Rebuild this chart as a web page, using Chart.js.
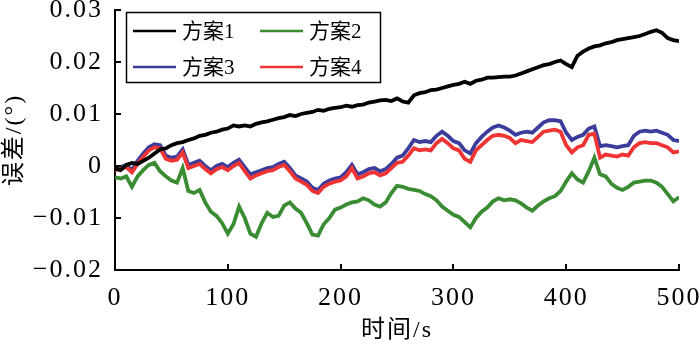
<!DOCTYPE html>
<html>
<head>
<meta charset="utf-8">
<script src="https://cdn.jsdelivr.net/npm/chart.js@4/dist/chart.umd.min.js"></script>
<style>
html,body{margin:0;padding:0;background:#fff;}
#wrap{width:700px;height:345px;}
</style>
</head>
<body>
<div id="wrap"><canvas id="c" width="700" height="345"></canvas></div>
<script>
const times = [0,5,10,15,20,25,30,35,40,45,50,55,60,65,70,75,80,85,90,95,
100,105,110,115,120,125,130,135,140,145,150,155,160,165,170,175,180,185,190,195,
200,205,210,215,220,225,230,235,240,245,250,255,260,265,270,275,280,285,290,295,
300,305,310,315,320,325,330,335,340,345,350,355,360,365,370,375,380,385,390,395,
400,405,410,415,420,425,430,435,440,445,450,455,460,465,470,475,480,485,490,495,500];

const seriesNames = ["方案1","方案2","方案3","方案4"];

const plan1 = [-0.0005,-0.0008,0.0002,0.0006,0.0004,0.0010,0.0016,0.0024,0.0032,0.0034,
0.0040,0.0044,0.0046,0.0050,0.0053,0.0058,0.0060,0.0064,0.0066,0.0070,
0.0072,0.0078,0.0076,0.0078,0.0076,0.0081,0.0084,0.0086,0.0089,0.0092,
0.0094,0.0098,0.0096,0.0100,0.0102,0.0104,0.0108,0.0106,0.0110,0.0112,
0.0113,0.0116,0.0114,0.0117,0.0118,0.0122,0.0124,0.0126,0.0127,0.0125,
0.0130,0.0124,0.0122,0.0136,0.0140,0.0142,0.0146,0.0147,0.0150,0.0153,
0.0156,0.0158,0.0162,0.0158,0.0164,0.0166,0.0170,0.0170,0.0171,0.0172,
0.0172,0.0174,0.0178,0.0182,0.0186,0.0190,0.0194,0.0196,0.0200,0.0203,
0.0196,0.0190,0.0212,0.0220,0.0226,0.0230,0.0232,0.0236,0.0238,0.0242,
0.0244,0.0246,0.0248,0.0250,0.0254,0.0258,0.0261,0.0256,0.0246,0.0242,0.0240];

const plan2 = [-0.0022,-0.0024,-0.0020,-0.0040,-0.0020,-0.0008,0.0002,0.0006,-0.0010,-0.0020,
-0.0028,-0.0032,-0.0004,-0.0048,-0.0052,-0.0046,-0.0070,-0.0088,-0.0096,-0.0110,
-0.0130,-0.0112,-0.0078,-0.0100,-0.0130,-0.0136,-0.0110,-0.0090,-0.0098,-0.0096,
-0.0076,-0.0070,-0.0082,-0.0090,-0.0110,-0.0132,-0.0134,-0.0112,-0.0100,-0.0084,
-0.0080,-0.0074,-0.0070,-0.0068,-0.0062,-0.0066,-0.0074,-0.0078,-0.0070,-0.0052,
-0.0038,-0.0040,-0.0044,-0.0046,-0.0048,-0.0054,-0.0058,-0.0066,-0.0078,-0.0086,
-0.0094,-0.0098,-0.0108,-0.0118,-0.0100,-0.0088,-0.0080,-0.0068,-0.0062,-0.0066,
-0.0064,-0.0066,-0.0072,-0.0080,-0.0086,-0.0076,-0.0068,-0.0062,-0.0058,-0.0048,
-0.0030,-0.0014,-0.0026,-0.0032,-0.0010,0.0016,-0.0016,-0.0020,-0.0034,-0.0042,
-0.0046,-0.0040,-0.0032,-0.0030,-0.0028,-0.0028,-0.0032,-0.0040,-0.0054,-0.0068,-0.0060];

const plan3 = [-0.0004,-0.0002,0.0002,-0.0008,0.0010,0.0024,0.0036,0.0042,0.0040,0.0020,
0.0016,0.0018,0.0032,0.0002,0.0006,0.0010,0.0000,-0.0008,0.0000,0.0004,
-0.0002,0.0006,0.0012,-0.0002,-0.0016,-0.0012,-0.0008,-0.0004,-0.0002,0.0004,
0.0008,-0.0004,-0.0018,-0.0024,-0.0030,-0.0042,-0.0046,-0.0034,-0.0028,-0.0024,
-0.0022,-0.0012,0.0002,-0.0016,-0.0012,-0.0006,-0.0004,-0.0010,-0.0006,0.0004,
0.0016,0.0020,0.0034,0.0050,0.0046,0.0048,0.0046,0.0058,0.0066,0.0058,
0.0048,0.0044,0.0030,0.0024,0.0044,0.0056,0.0066,0.0074,0.0078,0.0074,
0.0068,0.0060,0.0064,0.0066,0.0064,0.0074,0.0084,0.0088,0.0088,0.0086,
0.0064,0.0050,0.0056,0.0060,0.0072,0.0076,0.0038,0.0040,0.0038,0.0036,
0.0038,0.0040,0.0058,0.0066,0.0068,0.0066,0.0068,0.0064,0.0060,0.0050,0.0048];

const plan4 = [-0.0008,-0.0006,-0.0002,-0.0012,0.0004,0.0018,0.0030,0.0036,0.0034,0.0014,
0.0010,0.0012,0.0026,-0.0004,0.0000,0.0004,-0.0006,-0.0014,-0.0006,-0.0002,
-0.0008,0.0000,0.0006,-0.0010,-0.0024,-0.0018,-0.0014,-0.0010,-0.0008,-0.0002,
0.0002,-0.0010,-0.0024,-0.0030,-0.0036,-0.0048,-0.0052,-0.0040,-0.0034,-0.0030,
-0.0028,-0.0020,-0.0004,-0.0024,-0.0020,-0.0014,-0.0012,-0.0018,-0.0014,-0.0004,
0.0006,0.0008,0.0020,0.0034,0.0030,0.0032,0.0030,0.0044,0.0052,0.0044,
0.0034,0.0030,0.0014,0.0008,0.0030,0.0040,0.0050,0.0058,0.0060,0.0058,
0.0054,0.0044,0.0050,0.0048,0.0046,0.0056,0.0066,0.0068,0.0070,0.0066,
0.0040,0.0026,0.0036,0.0040,0.0060,0.0062,0.0016,0.0022,0.0020,0.0018,
0.0022,0.0020,0.0036,0.0044,0.0046,0.0044,0.0044,0.0040,0.0036,0.0026,0.0028];

const xTickValues = [0,100,200,300,400,500];
const yTickValues = [-0.02,-0.01,0,0.01,0.02,0.03];

const colors = ["#000000","#3a8c32","#3c3c9c","#f03434"];
const drawOrder = [0,1,3,2];
const allSeries = [plan1,plan2,plan3,plan4];

const serif = "'Liberation Serif', 'Times New Roman', 'DejaVu Serif', 'Noto Sans CJK SC', serif";

function pts(arr){ return arr.map((v,i)=>({x:times[i],y:v})); }

function fmtY(v){
  const r = Math.round(v*100)/100;
  if (r === 0) return "0";
  return (r<0?"\u2212":"") + Math.abs(r).toFixed(2);
}

const spacingPlugin = {
  id:'spacing',
  beforeDraw(chart){ chart.ctx.letterSpacing = '2px'; }
};

const legendPlugin = {
  id:'boxLegend',
  afterDraw(chart){
    const ctx = chart.ctx;
    ctx.letterSpacing = '0px';
    const {left,bottom,top} = chart.chartArea;
    const xs = chart.scales.x, ys = chart.scales.y;
    ctx.save();
    ctx.strokeStyle = '#000';
    ctx.lineWidth = 2;
    ctx.beginPath();
    xTickValues.forEach(v=>{
      const px = Math.round(xs.getPixelForValue(v));
      ctx.moveTo(px, bottom); ctx.lineTo(px, bottom-6);
    });
    yTickValues.forEach(v=>{
      const py = Math.round(ys.getPixelForValue(v));
      ctx.moveTo(left, py); ctx.lineTo(left+6, py);
    });
    ctx.stroke();
    ctx.lineWidth = 1.5;
    ctx.strokeRect(126.5, 12.5, 254, 70);
    const pos = [[133,31],[260,31],[133,67],[260,67]];
    ctx.font = '21px ' + serif;
    ctx.textBaseline = 'middle';
    ctx.fillStyle = '#000';
    pos.forEach((p,i)=>{
      ctx.strokeStyle = colors[i];
      ctx.lineWidth = 2.5;
      ctx.beginPath();
      ctx.moveTo(p[0], p[1]); ctx.lineTo(p[0]+43, p[1]);
      ctx.stroke();
      ctx.fillText(seriesNames[i], p[0]+49, p[1]+1);
    });
    ctx.restore();
  }
};

new Chart(document.getElementById('c'), {
  type:'line',
  data:{
    datasets: allSeries.map((s,i)=>({
      label: seriesNames[i],
      data: pts(s),
      borderColor: colors[i],
      backgroundColor: colors[i],
      borderWidth: 3.8,
      pointRadius: 0,
      tension: 0,
      order: drawOrder[i]
    }))
  },
  options:{
    responsive:false,
    animation:false,
    layout:{padding:{left:0,right:21,top:10,bottom:0}},
    plugins:{legend:{display:false},tooltip:{enabled:false}},
    scales:{
      x:{
        type:'linear', min:0, max:500,
        afterBuildTicks(s){ s.ticks = xTickValues.map(v=>({value:v})); },
        afterFit(s){ s.height = 75; s.paddingLeft = 0; s.paddingRight = 0; },
        grid:{display:true, drawOnChartArea:false, drawTicks:false},
        border:{display:true,color:'#000',width:2},
        ticks:{color:'#000',padding:13,maxRotation:0,font:{family:serif,size:26},callback:v=>String(v)},
        title:{display:true,text:'时间/s',color:'#000',font:{family:serif,size:24},padding:{top:0,bottom:0}}
      },
      y:{
        type:'linear', min:-0.02, max:0.03,
        afterBuildTicks(s){ s.ticks = yTickValues.map(v=>({value:v})); },
        afterFit(s){ s.width = 115; s.paddingTop = 0; s.paddingBottom = 0; },
        grid:{display:true, drawOnChartArea:false, drawTicks:false},
        border:{display:true,color:'#000',width:2},
        ticks:{color:'#000',padding:12,font:{family:serif,size:26},callback:v=>fmtY(v)},
        title:{display:true,text:'误差/(°)',color:'#000',font:{family:serif,size:24},padding:{top:0,bottom:0}}
      }
    }
  },
  plugins:[spacingPlugin, legendPlugin]
});
</script>
</body>
</html>
